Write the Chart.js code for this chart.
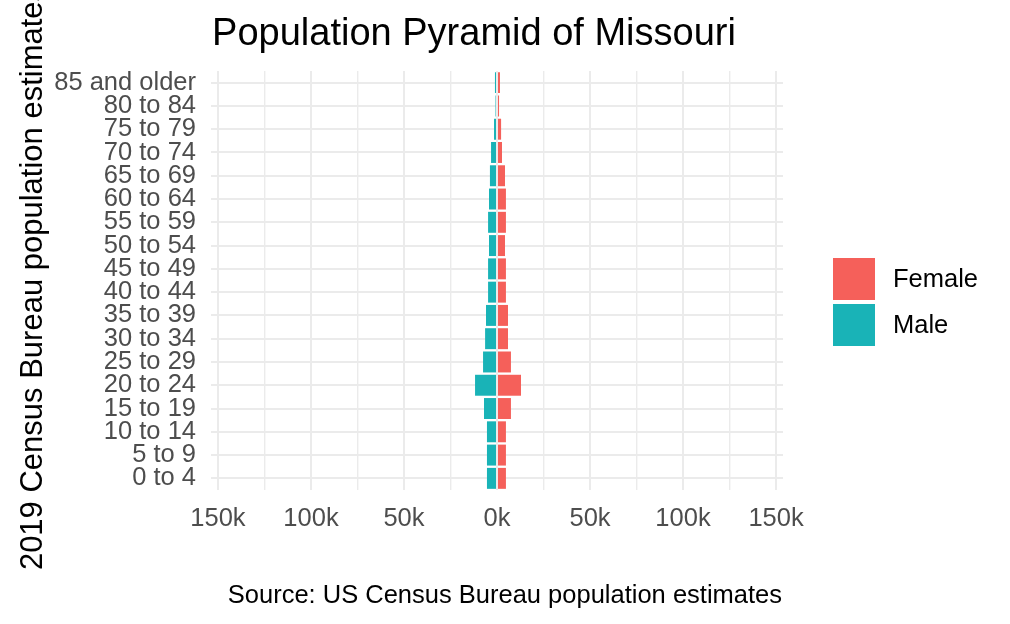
<!DOCTYPE html>
<html><head><meta charset="utf-8">
<script src="https://cdn.jsdelivr.net/npm/chart.js@4"></script>
<style>html,body{margin:0;padding:0;background:#fff;} canvas{display:block;}</style>
</head><body>
<canvas id="c" width="1010" height="624"></canvas>
<script>
const ageGroups = ['0 to 4','5 to 9','10 to 14','15 to 19','20 to 24','25 to 29','30 to 34','35 to 39','40 to 44','45 to 49','50 to 54','55 to 59','60 to 64','65 to 69','70 to 74','75 to 79','80 to 84','85 and older'];
const femaleValues = [4800,4800,4800,7500,12900,7500,5900,5900,4800,4800,4300,4800,4800,4300,2700,2200,1100,1600];
const maleValues = [5400,5400,5400,7000,11800,7500,6400,5900,4800,4800,4300,4800,4300,3800,3200,1600,800,1100];
const xTickValues = [-150000,-100000,-50000,0,50000,100000,150000];
const xTickLabels = ['150k','100k','50k','0k','50k','100k','150k'];
const xGridValues = [-150000,-125000,-100000,-75000,-50000,-25000,0,25000,50000,75000,100000,125000,150000];
const seriesNames = ['Female','Male'];
const seriesColors = ['#F5605A','#19B3B7'];

const FONT = "'Liberation Sans', Arial, Helvetica, sans-serif";
const GRID = '#EBEBEB';

const decor = {
  id: 'decor',
  afterDraw(chart) {
    const ctx = chart.ctx;
    ctx.save();
    ctx.fillStyle = '#000';
    ctx.textBaseline = 'alphabetic';
    ctx.textAlign = 'center';
    ctx.font = '38px ' + FONT;
    ctx.fillText('Population Pyramid of Missouri', 474, 45);
    ctx.save();
    ctx.translate(42, 278);
    ctx.rotate(-Math.PI / 2);
    ctx.font = '31px ' + FONT;
    ctx.fillText('2019 Census Bureau population estimates', 0, 0);
    ctx.restore();
    ctx.font = '25.5px ' + FONT;
    ctx.textAlign = 'right';
    ctx.fillText('Source: US Census Bureau population estimates', 782, 603);
    // legend
    const ds = chart.data.datasets;
    ctx.textAlign = 'left';
    ctx.textBaseline = 'middle';
    ds.forEach((d, i) => {
      const y = 258 + i * 46;
      ctx.fillStyle = d.backgroundColor;
      ctx.fillRect(833, y, 42, 42);
      ctx.fillStyle = '#000';
      ctx.fillText(d.label, 893, y + 22);
    });
    ctx.restore();
  }
};

new Chart(document.getElementById('c'), {
  type: 'bar',
  data: {
    labels: ageGroups,
    datasets: [
      { label: seriesNames[0], data: femaleValues, backgroundColor: seriesColors[0] },
      { label: seriesNames[1], data: maleValues.map(v => -v), backgroundColor: seriesColors[1] }
    ]
  },
  options: {
    indexAxis: 'y',
    responsive: false,
    animation: false,
    devicePixelRatio: 1,
    datasets: { bar: { barPercentage: 0.9, categoryPercentage: 1.0, borderWidth: 0 } },
    layout: { padding: { left: 0, right: 227, top: 71, bottom: 74 } },
    plugins: { legend: { display: false }, tooltip: { enabled: false }, title: { display: false } },
    scales: {
      x: {
        stacked: true,
        min: -153750, max: 153750,
        border: { display: false },
        grid: {
          color: GRID,
          drawTicks: false,
          lineWidth: (c) => (c.tick && c.tick.value % 50000 === 0) ? 2 : 1.4
        },
        afterBuildTicks: (s) => { s.ticks = xGridValues.map(v => ({ value: v })); },
        ticks: {
          autoSkip: false,
          maxRotation: 0,
          padding: 14,
          color: '#4D4D4D',
          font: { family: FONT, size: 25.5 },
          callback: (v) => {
            const i = xTickValues.indexOf(v);
            return i >= 0 ? xTickLabels[i] : '';
          }
        },
        afterFit: (s) => { s.height = 60; }
      },
      y: {
        stacked: true,
        reverse: true,
        border: { display: false },
        grid: { color: GRID, drawTicks: false, offset: false, lineWidth: 2 },
        ticks: {
          padding: 15,
          autoSkip: false,
          color: '#4D4D4D',
          font: { family: FONT, size: 25.5 }
        },
        afterFit: (s) => { s.width = 211; }
      }
    }
  },
  plugins: [decor]
});
</script>
</body></html>
